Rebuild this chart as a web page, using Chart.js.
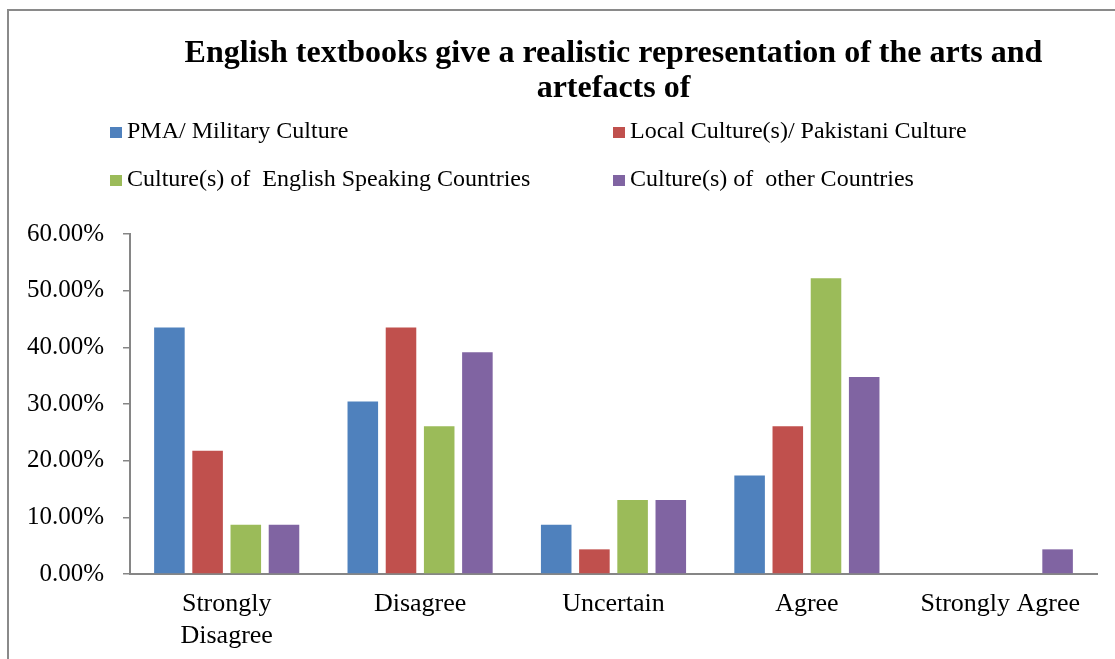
<!DOCTYPE html>
<html>
<head>
<meta charset="utf-8">
<script src="https://cdn.jsdelivr.net/npm/chart.js@4.4.0/dist/chart.umd.min.js"></script>
<style>
  html, body { margin: 0; padding: 0; background: #fff; overflow: hidden; }
  #wrap { position: relative; width: 1115px; height: 659px; }
  #frame { position: absolute; left: 7px; top: 9px; width: 1300px; height: 800px; border: 2px solid #8a8a8a; box-sizing: border-box; }
  canvas { position: absolute; left: 0; top: 0; }
</style>
</head>
<body>
<div id="wrap">
  <div id="frame"></div>
  <canvas id="c" width="1115" height="659"></canvas>
</div>
<script>
const categories = [["Strongly", "Disagree"], "Disagree", "Uncertain", "Agree", "Strongly Agree"];
const seriesNames = ["PMA/ Military Culture", "Local Culture(s)/ Pakistani Culture", "Culture(s) of  English Speaking Countries", "Culture(s) of  other Countries"];
const pmaMilitary = [0.4348, 0.3043, 0.0870, 0.1739, 0];
const localPakistani = [0.2174, 0.4348, 0.0435, 0.2609, 0];
const englishSpeaking = [0.0870, 0.2609, 0.1304, 0.5217, 0];
const otherCountries = [0.0870, 0.3913, 0.1304, 0.3478, 0.0435];
const yTicks = [0, 0.1, 0.2, 0.3, 0.4, 0.5, 0.6];
const titleLines = ["English textbooks give a realistic representation of the arts and", "artefacts of"];
const colors = ["#4F81BD", "#C0504D", "#9BBB59", "#8064A2"];

const serif = "'Liberation Serif', 'Times New Roman', serif";

const legendPlugin = {
  id: 'twoColLegend',
  afterDraw(chart) {
    const ctx = chart.ctx;
    ctx.save();
    ctx.font = "24px " + serif;
    ctx.textBaseline = 'middle';
    chart.data.datasets.forEach((ds, i) => {
      const col = i % 2, row = Math.floor(i / 2);
      const x = 110 + col * 503;
      const y = 132 + row * 48;
      ctx.fillStyle = ds.backgroundColor;
      ctx.fillRect(x, y - 5, 12, 11);
      ctx.fillStyle = '#000';
      ctx.textAlign = 'left';
      ctx.fillText(ds.label, x + 17, y);
    });
    ctx.restore();
  }
};

const dataSeries = [pmaMilitary, localPakistani, englishSpeaking, otherCountries];

new Chart(document.getElementById('c'), {
  type: 'bar',
  data: {
    labels: categories,
    datasets: dataSeries.map((d, i) => ({
      label: seriesNames[i],
      data: d,
      backgroundColor: colors[i],
      borderWidth: 0,
      categoryPercentage: 0.79,
      barPercentage: 0.8
    }))
  },
  options: {
    responsive: false,
    animation: false,
    devicePixelRatio: 1,
    layout: { padding: { left: 0, right: 18, top: 0, bottom: 0 } },
    plugins: {
      legend: { display: false },
      tooltip: { enabled: false },
      title: {
        display: true,
        text: titleLines,
        fullSize: false,
        color: '#000',
        font: { family: serif, size: 32, weight: 'bold', lineHeight: 1.1 },
        padding: { top: 36, bottom: 127.6 }
      }
    },
    scales: {
      x: {
        afterFit(scale) { scale.height = 85; },
        grid: { display: false, drawTicks: false },
        border: { display: true, color: '#868686', width: 2 },
        ticks: {
          color: '#000',
          font: { family: serif, size: 26, lineHeight: 1.2 },
          padding: 15,
          maxRotation: 0,
          autoSkip: false
        }
      },
      y: {
        min: 0,
        max: 0.6,
        afterFit(scale) { scale.width = 130; },
        afterBuildTicks(scale) { scale.ticks = yTicks.map(v => ({ value: v })); },
        grid: { display: true, drawOnChartArea: false, drawTicks: true, tickLength: 7, color: '#868686', lineWidth: 1.5 },
        border: { display: true, color: '#868686', width: 2 },
        ticks: {
          color: '#000',
          font: { family: serif, size: 25 },
          padding: 19,
          callback: v => (v * 100).toFixed(2) + '%'
        }
      }
    }
  },
  plugins: [legendPlugin]
});
</script>
</body>
</html>
